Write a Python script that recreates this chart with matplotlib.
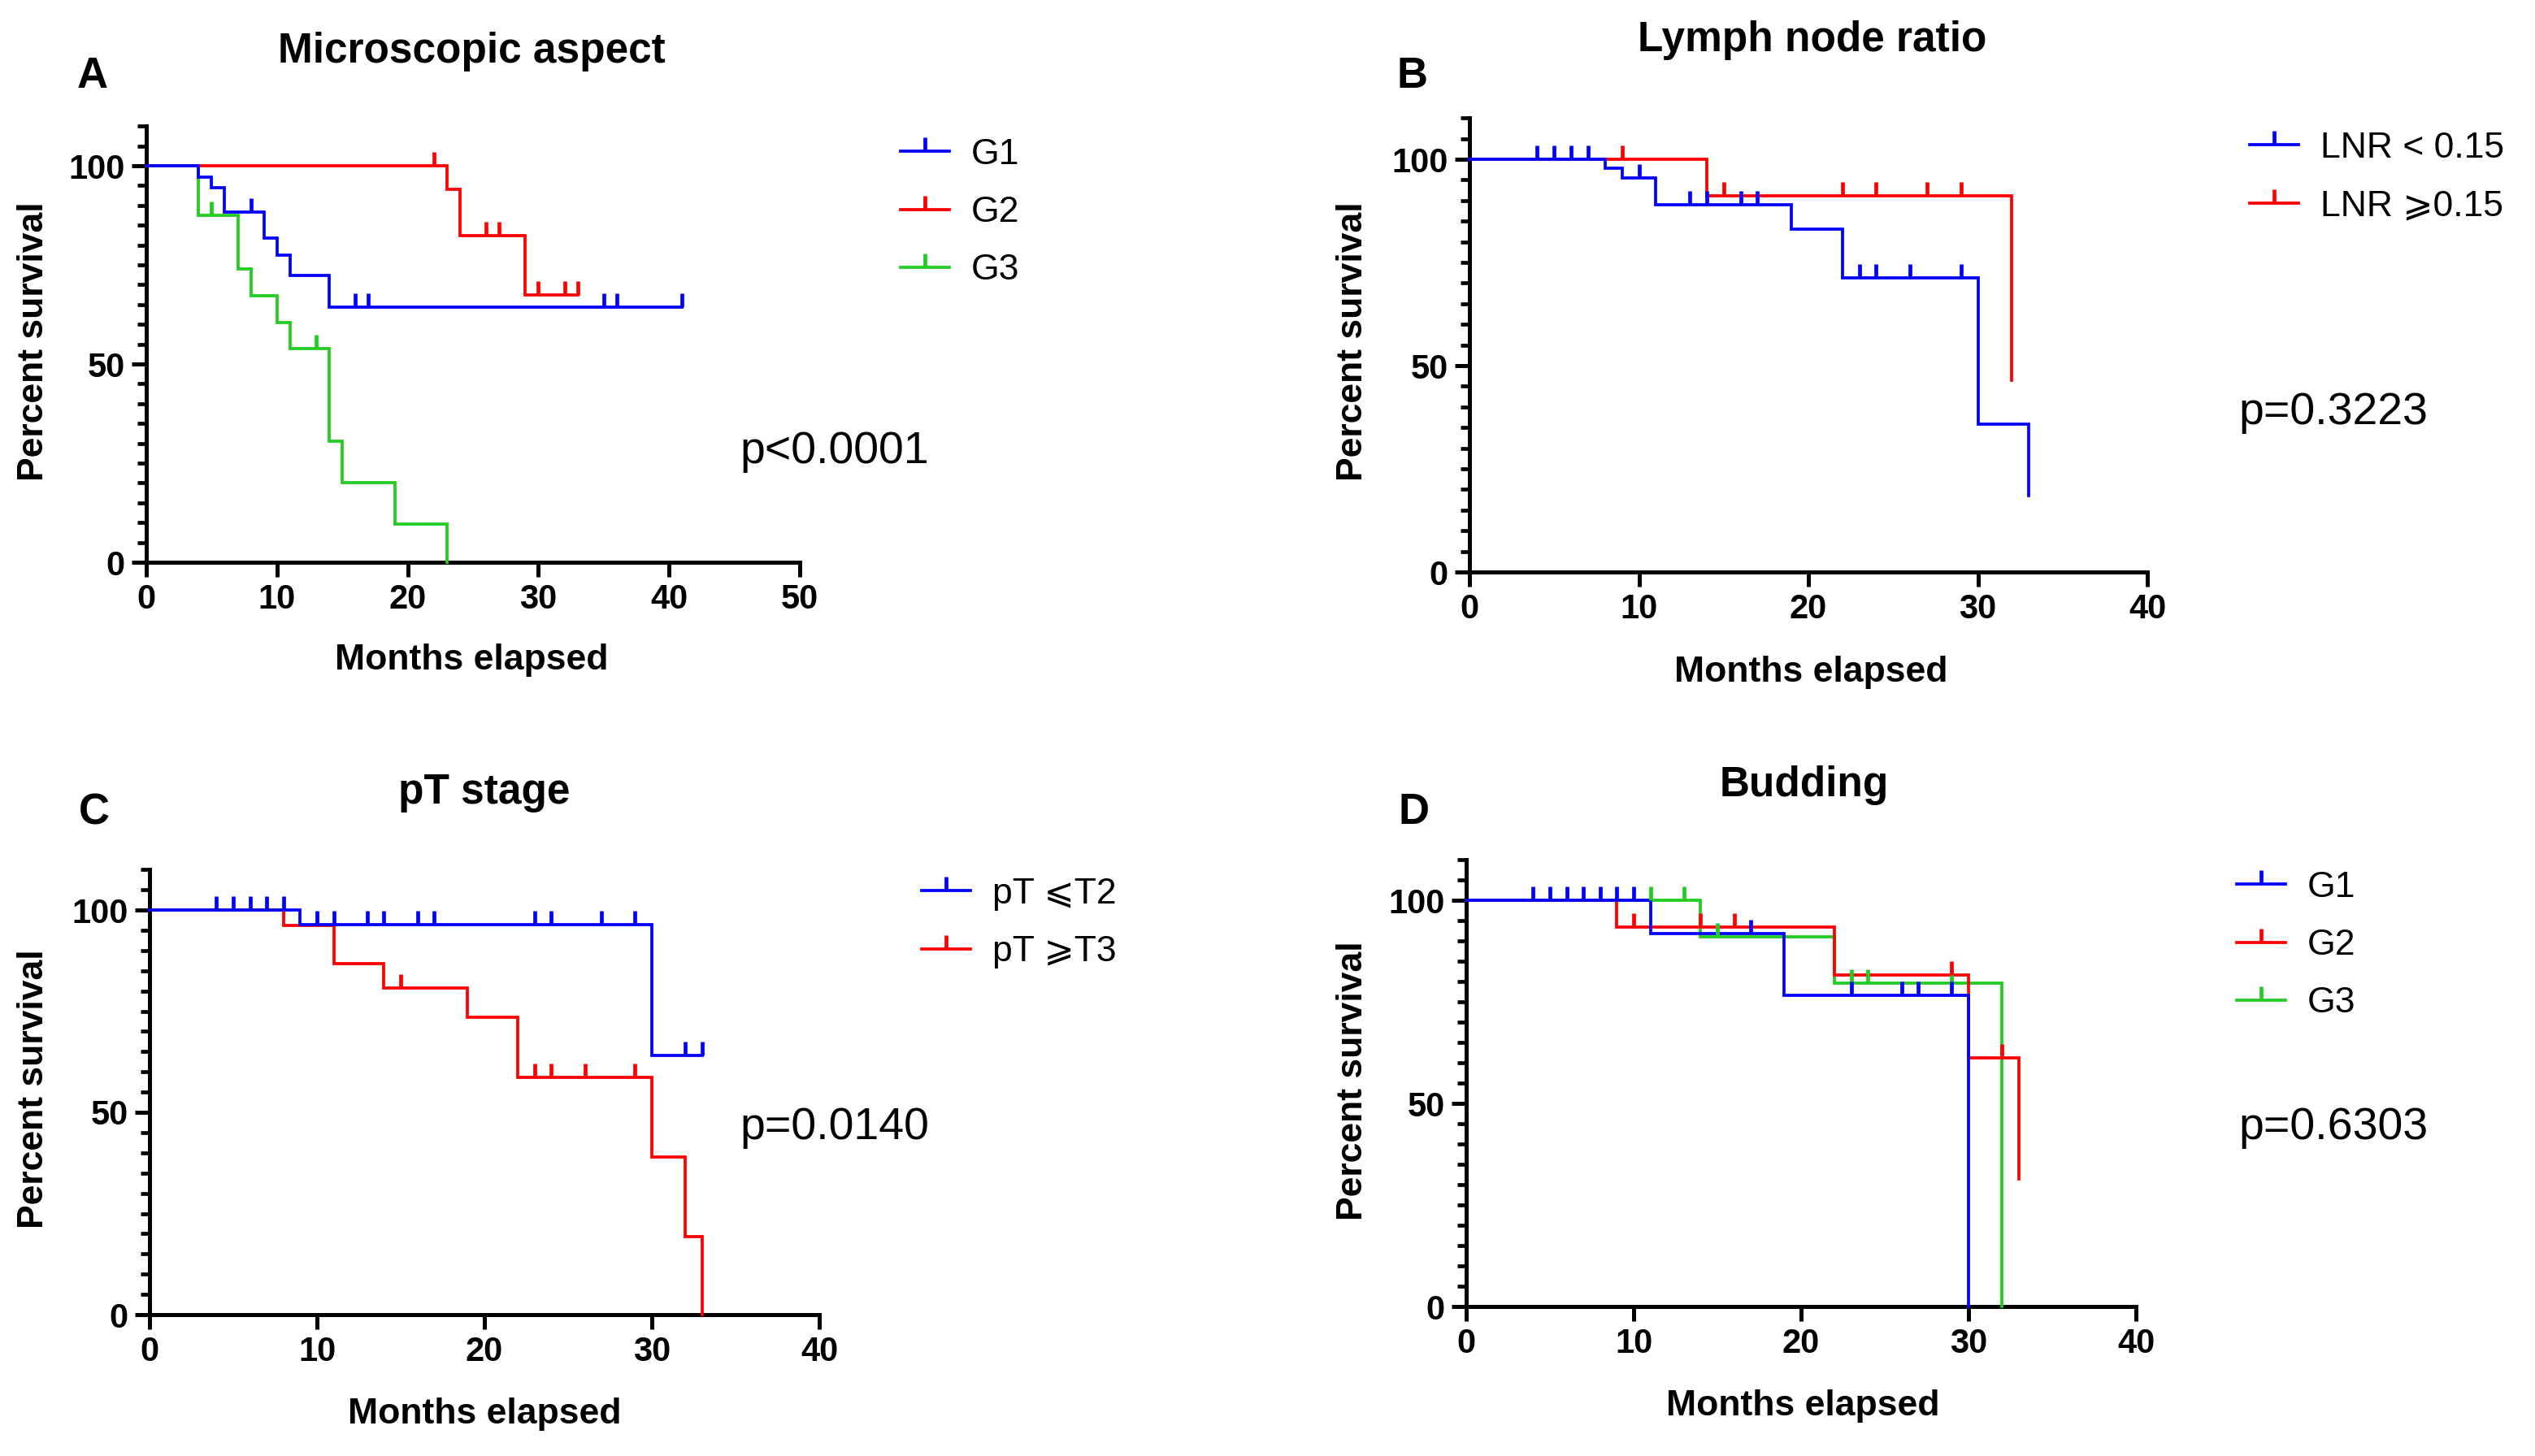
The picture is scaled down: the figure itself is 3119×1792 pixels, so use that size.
import numpy as np
import matplotlib
matplotlib.use("Agg")
import matplotlib.pyplot as plt
from matplotlib.lines import Line2D
from matplotlib.ticker import MultipleLocator

# ---------------- data ----------------
BLUE, RED, GREEN = "#0000FF", "#FF0000", "#22CC22"

# Panel A: Microscopic aspect
a_g1_t = [4, 5, 6, 9, 10, 11, 14]
a_g1_s = [97.2, 94.4, 88.4, 81.8, 77.5, 72.4, 64.3]
a_g1_c = [8, 16, 17, 35, 36, 41]
a_g1_end = 41
a_g2_t = [23, 24, 29]
a_g2_s = [94.1, 82.4, 67.4]
a_g2_c = [22, 26, 27, 30, 32, 33]
a_g2_end = 33
a_g3_t = [4, 7, 8, 10, 11, 14, 15, 19, 23]
a_g3_s = [87.4, 74.0, 67.2, 60.5, 53.8, 30.5, 20.1, 9.6, 0]
a_g3_c = [5, 13]
a_g3_end = 23

# Panel B: Lymph node ratio
b_lo_t = [8, 9, 11, 19, 22, 30, 33]
b_lo_s = [97.8, 95.5, 89.0, 83.1, 71.3, 35.8, 18.5]
b_lo_c = [4, 5, 6, 7, 10, 13, 14, 16, 17, 23, 24, 26, 29]
b_lo_end = 33
b_hi_t = [14, 32]
b_hi_s = [91.1, 46.4]
b_hi_c = [9, 15, 22, 24, 27, 29]
b_hi_end = 32

# Panel C: pT stage
c_lo_t = [9, 30]
c_lo_s = [96.3, 64.1]
c_lo_c = [4, 5, 6, 7, 8, 10, 11, 13, 14, 16, 17, 23, 24, 27, 29, 32, 33]
c_lo_end = 33
c_hi_t = [8, 11, 14, 19, 22, 30, 32, 33]
c_hi_s = [96.1, 86.8, 80.8, 73.5, 58.7, 39.0, 19.3, 0]
c_hi_c = [15, 23, 24, 26, 29]
c_hi_end = 33

# Panel D: Budding
d_g1_t = [11, 19, 30]
d_g1_s = [91.9, 76.6, 0]
d_g1_c = [4, 5, 6, 7, 8, 9, 10, 17, 23, 26, 27, 29]
d_g1_end = 30
d_g2_t = [9, 22, 30, 33]
d_g2_s = [93.4, 81.6, 61.3, 31.4]
d_g2_c = [10, 14, 16, 29, 32]
d_g2_end = 33
d_g3_t = [14, 22, 32]
d_g3_s = [91.1, 79.6, 0]
d_g3_c = [11, 13, 15, 23, 24, 29]
d_g3_end = 32

titles = ["Microscopic aspect", "Lymph node ratio", "pT stage", "Budding"]
letters = ["A", "B", "C", "D"]
pvals = ["p<0.0001", "p=0.3223", "p=0.0140", "p=0.6303"]
xmaxes = [50, 40, 40, 40]
a_labels = ["G1", "G2", "G3"]
b_labels = ["LNR < 0.15", "LNR \u2A7E0.15"]
c_labels = ["pT \u2A7DT2", "pT \u2A7ET3"]
d_labels = ["G1", "G2", "G3"]

# ---------------- style ----------------
W, H = 3119, 1792
DPI = 100
BOLD = ["Liberation Sans Narrow", "Liberation Sans", "DejaVu Sans"]
REG = ["Liberation Sans", "DejaVu Sans"]
LW = 2.7
MS = 12
MEW = 3.4

fig = plt.figure(figsize=(W / DPI, H / DPI), dpi=DPI)
fig.patch.set_facecolor("white")


def fx(px):
    return px / W


def fy(py):
    return 1 - py / H


def make_ax(left, right, bottom, y100):
    top = bottom - 1.1 * (bottom - y100)
    return fig.add_axes([fx(left), fy(bottom), fx(right - left), (bottom - top) / H])


def km(ax, t, s, c, end, color, label):
    xs = np.array([0] + list(t) + [end], float)
    ys = np.array([100] + list(s) + [s[-1] if len(s) else 100], float)
    ax.step(xs, ys, where="post", color=color, lw=LW, solid_joinstyle="miter",
            clip_on=False, zorder=3)
    c = np.array(c, float)
    et = np.array(t, float)
    idx = np.searchsorted(et, c, side="right")
    sv = np.concatenate([[100.0], np.array(s, float)])[idx]
    ax.plot(c, sv, linestyle="none", marker=2, markersize=MS, markeredgewidth=MEW,
            color=color, clip_on=False, zorder=4)
    return Line2D([], [], color=color, lw=LW, marker=2, markersize=MS,
                  markeredgewidth=MEW, label=label)


def style(ax, xmax):
    ax.set_xlim(0, xmax)
    ax.set_ylim(0, 110)
    ax.spines["top"].set_visible(False)
    ax.spines["right"].set_visible(False)
    for sp in ("left", "bottom"):
        ax.spines[sp].set_linewidth(3.6)
        ax.spines[sp].set_color("black")
    ax.set_xticks(np.arange(0, xmax + 1, 10))
    ax.set_yticks([0, 50, 100])
    ax.yaxis.set_minor_locator(MultipleLocator(5))
    ax.tick_params(axis="both", which="major", direction="out", length=13, width=3.6,
                   labelsize=30, pad=6)
    ax.tick_params(axis="y", which="minor", direction="out", length=8, width=3.4)
    for lab in ax.get_xticklabels() + ax.get_yticklabels():
        lab.set_family(BOLD)
        lab.set_fontweight("bold")
    ax.set_facecolor("none")


def legend(ax, handles, xpx, ypx):
    ax.legend(handles=handles, loc="upper left", bbox_to_anchor=(fx(xpx), fy(ypx)),
              bbox_transform=fig.transFigure, frameon=False, numpoints=1,
              prop={"family": REG, "size": 32}, handlelength=1.35, handletextpad=0.6,
              labelspacing=0.68, borderpad=0, borderaxespad=0)


def texts(i, letter_xy, title_xy, xlabel_xy, ylabel_xy, p_xy):
    fig.text(fx(letter_xy[0]), fy(letter_xy[1]), letters[i], family=BOLD, weight="bold",
             fontsize=38, ha="center", va="center")
    fig.text(fx(title_xy[0]), fy(title_xy[1]), titles[i], family=BOLD, weight="bold",
             fontsize=37, ha="center", va="center")
    fig.text(fx(xlabel_xy[0]), fy(xlabel_xy[1]), "Months elapsed", family=BOLD,
             weight="bold", fontsize=32, ha="center", va="center")
    fig.text(fx(ylabel_xy[0]), fy(ylabel_xy[1]), "Percent survival", family=BOLD,
             weight="bold", fontsize=32, ha="center", va="center", rotation=90)
    fig.text(fx(p_xy[0]), fy(p_xy[1]), pvals[i], family=REG, fontsize=40,
             ha="left", va="center")


# Panel A
axA = make_ax(180, 984, 692, 204)
style(axA, xmaxes[0])
hA3 = km(axA, a_g3_t, a_g3_s, a_g3_c, a_g3_end, GREEN, a_labels[2])
hA2 = km(axA, a_g2_t, a_g2_s, a_g2_c, a_g2_end, RED, a_labels[1])
hA1 = km(axA, a_g1_t, a_g1_s, a_g1_c, a_g1_end, BLUE, a_labels[0])
legend(axA, [hA1, hA2, hA3], 1108, 170)
texts(0, (114, 94), (580, 64), (580, 812), (42, 420), (910, 556))

# Panel B
axB = make_ax(1808, 2642, 704, 196)
style(axB, xmaxes[1])
hB_hi = km(axB, b_hi_t, b_hi_s, b_hi_c, b_hi_end, RED, b_labels[1])
hB_lo = km(axB, b_lo_t, b_lo_s, b_lo_c, b_lo_end, BLUE, b_labels[0])
legend(axB, [hB_lo, hB_hi], 2768, 162)
texts(1, (1738, 94), (2230, 50), (2228, 828), (1664, 420), (2770 - 16, 508))

# Panel C
axC = make_ax(184, 1008, 1618, 1120)
style(axC, xmaxes[2])
hC_hi = km(axC, c_hi_t, c_hi_s, c_hi_c, c_hi_end, RED, c_labels[1])
hC_lo = km(axC, c_lo_t, c_lo_s, c_lo_c, c_lo_end, BLUE, c_labels[0])
legend(axC, [hC_lo, hC_hi], 1134, 1080)
texts(2, (116, 1000), (596, 976), (596, 1740), (42, 1340), (910, 1388))

# Panel D
axD = make_ax(1804, 2628, 1608, 1108)
style(axD, xmaxes[3])
hD3 = km(axD, d_g3_t, d_g3_s, d_g3_c, d_g3_end, GREEN, d_labels[2])
hD2 = km(axD, d_g2_t, d_g2_s, d_g2_c, d_g2_end, RED, d_labels[1])
hD1 = km(axD, d_g1_t, d_g1_s, d_g1_c, d_g1_end, BLUE, d_labels[0])
legend(axD, [hD1, hD2, hD3], 2752, 1072)
texts(3, (1740, 1000), (2220, 966), (2218, 1730), (1664, 1330), (2770 - 16, 1388))

fig.savefig("out.png", dpi=DPI, facecolor="white")
